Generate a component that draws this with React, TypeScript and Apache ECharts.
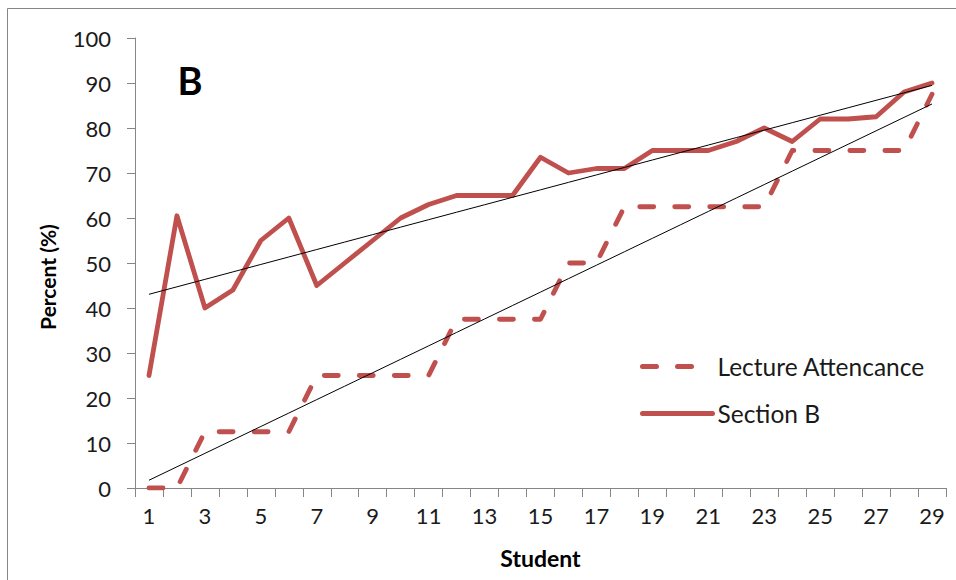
import React, { useEffect, useRef } from 'react';
import * as echarts from 'echarts';

const students = ['1','2','3','4','5','6','7','8','9','10','11','12','13','14','15','16','17','18','19','20','21','22','23','24','25','26','27','28','29'];
const lectureAttendance = [0, 0, 12.5, 12.5, 12.5, 12.5, 25, 25, 25, 25, 25, 37.5, 37.5, 37.5, 37.5, 50, 50, 62.5, 62.5, 62.5, 62.5, 62.5, 62.5, 75, 75, 75, 75, 75, 87.5];
const sectionB = [25, 60.5, 40, 44, 55, 60, 45, 50, 55, 60, 63, 65, 65, 65, 73.5, 70, 71, 71, 75, 75, 75, 77, 80, 77, 82, 82, 82.5, 88, 90];
const yMin = 0;
const yMax = 100;
const yInterval = 10;

// Linear least-squares trendline (as in Excel) through the data
function trend(values: number[]): number[] {
  const n = values.length;
  const xs = values.map((_, i) => i + 1);
  const mx = xs.reduce((a, b) => a + b, 0) / n;
  const my = values.reduce((a, b) => a + b, 0) / n;
  let sxy = 0, sxx = 0;
  for (let i = 0; i < n; i++) {
    sxy += (xs[i] - mx) * (values[i] - my);
    sxx += (xs[i] - mx) * (xs[i] - mx);
  }
  const slope = sxy / sxx;
  const icpt = my - slope * mx;
  return xs.map((x) => +(icpt + slope * x).toFixed(3));
}

const RED = '#C0504D';
const AXIS = '#868686';
const FONT = 'Lato, "Liberation Sans", sans-serif';
const DASH = [14, 21];

export default function App() {
  const ref = useRef<HTMLDivElement>(null);
  useEffect(() => {
    if (!ref.current) return;
    const chart = echarts.init(ref.current, undefined, { renderer: 'svg' });
    chart.setOption({
      animation: false,
      backgroundColor: '#fff',
      grid: { left: 135, right: 10, top: 38, bottom: 92 },
      legend: {
        orient: 'vertical',
        left: 635,
        top: 349,
        itemWidth: 70,
        itemHeight: 24,
        itemGap: 22,
        itemStyle: { opacity: 0 },
        textStyle: { fontFamily: FONT, fontSize: 24.5, color: '#1a1a1a' },
        data: [
          { name: 'Lecture Attencance', lineStyle: { color: RED, width: 5, type: DASH, cap: 'round' } },
          { name: 'Section B', lineStyle: { color: RED, width: 5, type: 'solid', cap: 'round' } },
        ],
      },
      xAxis: {
        type: 'category',
        data: students,
        boundaryGap: true,
        name: 'Student',
        nameLocation: 'middle',
        nameGap: 58,
        nameTextStyle: { fontFamily: FONT, fontWeight: 'bold', fontSize: 23, color: '#000' },
        axisLine: { lineStyle: { color: AXIS, width: 1 } },
        axisTick: { show: true, interval: 0, length: 9, lineStyle: { color: AXIS } },
        axisLabel: { interval: 1, margin: 16, color: '#1a1a1a', fontFamily: FONT, fontSize: 22 },
        splitLine: { show: false },
      },
      yAxis: {
        type: 'value',
        min: yMin,
        max: yMax,
        interval: yInterval,
        axisLine: { show: true, lineStyle: { color: AXIS, width: 1 } },
        axisTick: { show: true, length: 8, lineStyle: { color: AXIS } },
        axisLabel: { margin: 24, color: '#1a1a1a', fontFamily: FONT, fontSize: 22 },
        splitLine: { show: false },
      },
      series: [
        {
          name: 'Lecture Attencance',
          type: 'line',
          data: lectureAttendance,
          symbol: 'none',
          itemStyle: { color: RED },
          lineStyle: { color: RED, width: 4.8, type: DASH, cap: 'round', join: 'round' },
        },
        {
          name: 'Section B',
          type: 'line',
          data: sectionB,
          symbol: 'none',
          itemStyle: { color: RED },
          lineStyle: { color: RED, width: 4.8, cap: 'round', join: 'round' },
        },
        {
          name: 'Trend Lecture',
          type: 'line',
          data: trend(lectureAttendance),
          symbol: 'none',
          silent: true,
          lineStyle: { color: '#000', width: 1 },
          z: 5,
        },
        {
          name: 'Trend Section B',
          type: 'line',
          data: trend(sectionB),
          symbol: 'none',
          silent: true,
          lineStyle: { color: '#000', width: 1 },
          z: 5,
        },
      ],
      graphic: [
        {
          type: 'rect',
          shape: { x: 7.5, y: 8.5, width: 1000, height: 700 },
          style: { fill: 'none', stroke: AXIS, lineWidth: 1 },
          silent: true,
          z: -1,
        },
        {
          type: 'text',
          x: 190,
          y: 80,
          style: { text: 'B', fontFamily: FONT, fontWeight: 'bold', fontSize: 38, fill: '#000', align: 'center', verticalAlign: 'middle' },
        },
        {
          type: 'text',
          x: 47,
          y: 277,
          rotation: Math.PI / 2,
          style: { text: 'Percent (%)', fontFamily: FONT, fontWeight: 'bold', fontSize: 21, fill: '#000', align: 'center', verticalAlign: 'middle' },
        },
      ],
    });
    return () => chart.dispose();
  }, []);
  return <div ref={ref} style={{ position: 'fixed', left: 0, top: 0, width: 956, height: 580 }} />;
}
